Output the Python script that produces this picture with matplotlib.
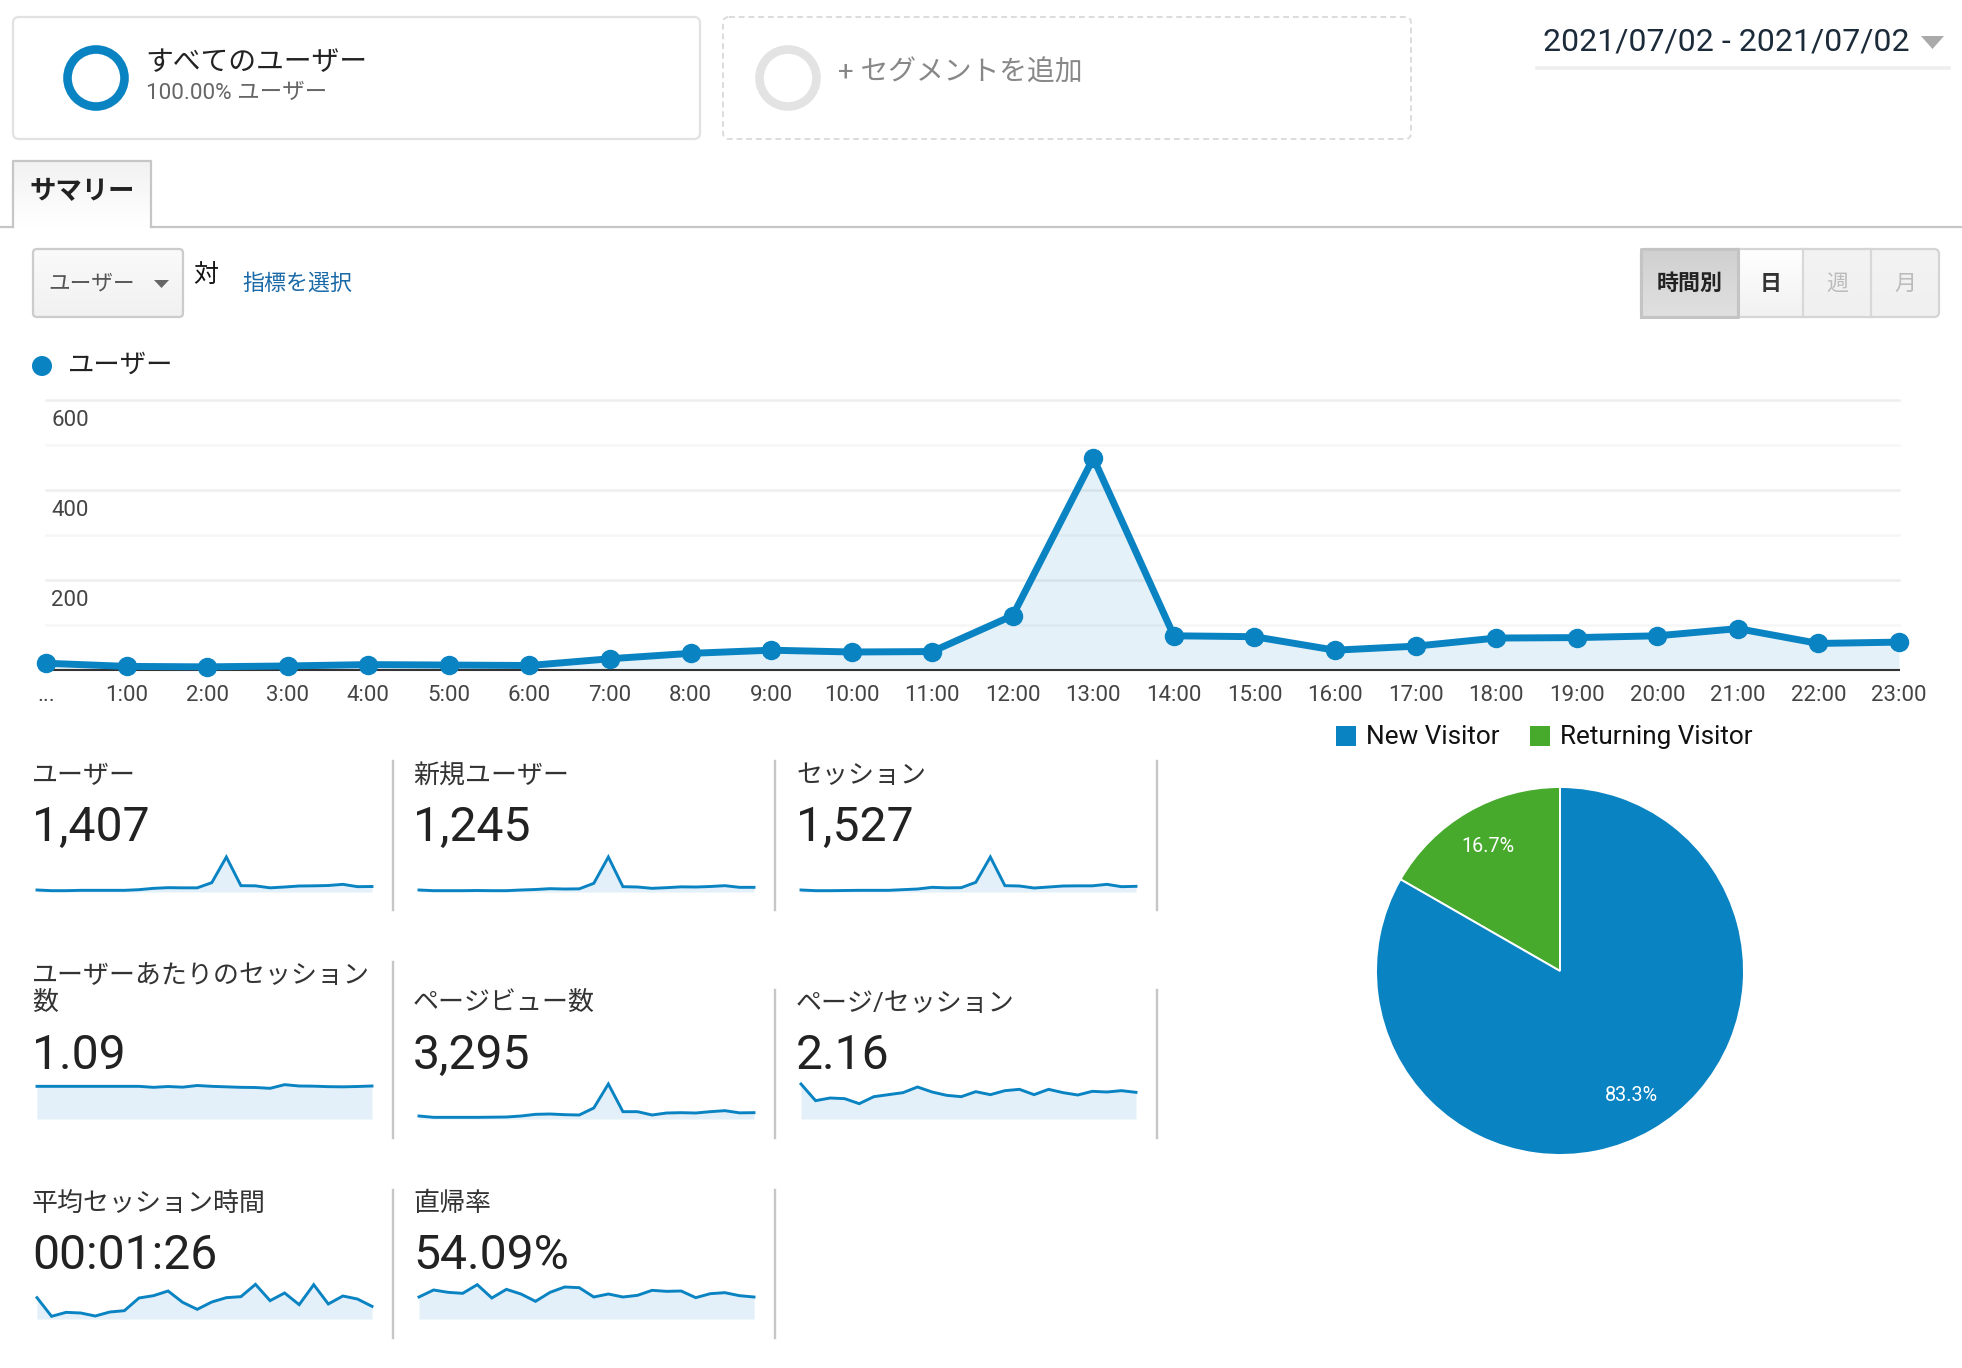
import numpy as np
import matplotlib
matplotlib.use('Agg')
import matplotlib.pyplot as plt
from matplotlib.patches import FancyBboxPatch, Circle, Rectangle, Polygon

plt.rcParams['font.family'] = ['Roboto', 'Noto Sans CJK JP', 'DejaVu Sans']

W, H = 1962, 1368
BLUE = '#0a83c2'
GREEN = '#47aa2d'
FILL = '#e3f0f9'
LINE = '#c6c6c6'

hours = ['...'] + [f'{h}:00' for h in range(1, 24)]
users = [15, 8, 7, 9, 12, 11, 10, 25, 37, 44, 40, 41, 121, 471, 76, 74, 44, 53, 71, 72, 76, 92, 59, 62]
y_labels = [200, 400, 600]
y_grid = [100, 200, 300, 400, 500, 600]

visitor_labels = ['New Visitor', 'Returning Visitor']
visitor_share = [83.3, 16.7]

# sparklines, heights (0-105 = full height of the spark)
spark_users = [6, 4, 4, 5, 5, 5, 5, 7, 11, 13, 12.5, 12.5, 28, 105, 19, 18.5, 12.5, 15, 18, 18.5, 19.5, 23, 16, 16.5]
spark_new = [6, 4, 4, 4, 4.5, 4, 4, 6, 7.5, 10, 9, 9.5, 26, 105, 16, 15, 11, 13, 15.5, 15, 16.5, 19, 14, 14]
spark_sessions = [6, 4, 4, 4.5, 5, 5, 5, 7, 9, 14, 12.5, 13, 29, 105, 19, 18, 12, 15, 18, 18.5, 18.5, 23, 16, 17]
spark_per_user = [98, 98, 98, 98, 98, 98, 98, 98, 95, 97.5, 95.5, 100.5, 98, 96.5, 95, 94.5, 92, 103, 99, 98.5, 97, 96.5, 97.5, 99]
spark_pv = [9, 5, 5, 5, 5, 5.5, 6, 9, 14, 15, 13, 12, 33, 105, 22, 22, 12, 18, 19, 18, 22, 25, 18.5, 19]
spark_pages = [105, 55, 63, 61, 46, 67, 73, 79, 96, 81, 71, 67, 82, 73, 85, 89, 73, 89, 79, 72, 83, 81, 85, 80]
spark_duration = [64, 8, 20, 18, 9, 21, 25, 63, 70, 84, 50, 29, 51, 64, 67, 104, 55, 78, 43, 103, 45, 69, 60, 38]
spark_bounce = [66, 87, 80, 77, 103, 63, 89, 75, 53, 80, 96, 94, 66, 75, 66, 71, 86, 83, 84, 64, 76, 79, 70, 66]

fig = plt.figure(figsize=(W / 100, H / 100), dpi=100)


def px_axes(x0, y0, x1, y1):
    return fig.add_axes([x0 / W, 1 - y1 / H, (x1 - x0) / W, (y1 - y0) / H])


# page-level axes in pixel coordinates for the UI chrome
ui = fig.add_axes([0, 0, 1, 1])
ui.set_xlim(0, W)
ui.set_ylim(H, 0)
ui.axis('off')


def box(x0, y0, x1, y1, fc='white', ec='#e2e2e2', lw=1.6, ls='-', r=6):
    ui.add_patch(FancyBboxPatch((x0, y0), x1 - x0, y1 - y0, boxstyle=f'round,pad=0,rounding_size={r}',
                                fc=fc, ec=ec, lw=lw, ls=ls))


def grad(x0, y0, x1, y1, top, bottom):
    c0 = np.array(matplotlib.colors.to_rgb(top))
    c1 = np.array(matplotlib.colors.to_rgb(bottom))
    t = np.linspace(0, 1, 32)[:, None, None]
    ui.imshow(c0 + (c1 - c0) * t, extent=(x0, x1, y1, y0), aspect='auto', zorder=1)
    ui.set_xlim(0, W)
    ui.set_ylim(H, 0)


def label(x, y, s, size, color='#333333', ha='left', weight='normal', zorder=5):
    # va=center sits a little high for these fonts
    ui.text(x, y + 3, s, fontsize=size, color=color, ha=ha, va='center', fontweight=weight, zorder=zorder)


# segment boxes
box(13, 17, 700, 139)
ui.add_patch(Circle((96, 78), 28.5, fc='none', ec=BLUE, lw=6.2))
label(145, 60, 'すべてのユーザー', 20, '#222222')
label(146, 90, '100.00% ユーザー', 16.2, '#666666')
box(723, 17, 1411, 139, ec='#dcdcdc', lw=1.4, ls=(0, (3, 2)))
ui.add_patch(Circle((788, 78), 28.5, fc='none', ec='#e3e3e3', lw=6.2))
label(838, 70, '+ セグメントを追加', 20, '#888888')

# date range
label(1543, 39, '2021/07/02 - 2021/07/02', 23, '#1c2b3a')
ui.add_patch(Polygon([(1921, 36), (1944, 36), (1932.5, 49)], fc='#aaaaaa', ec='none'))
ui.plot([1537, 1949], [68, 68], color='#eeeeee', lw=2.6)

# tab
ui.plot([0, 13], [227, 227], color=LINE, lw=1.6)
ui.plot([151, W], [227, 227], color=LINE, lw=1.6)
grad(13, 161, 151, 227, '#f2f2f2', '#ffffff')
ui.plot([13, 13, 151, 151], [227, 161, 161, 227], color=LINE, lw=1.6, zorder=2)
label(29, 189, 'サマリー', 19, '#222222', weight='bold')

# metric picker
grad(33, 249, 183, 317, '#fafafa', '#f1f1f1')
ui.add_patch(FancyBboxPatch((33, 249), 150, 68, boxstyle='round,pad=0,rounding_size=4', fc='none', ec='#cccccc', lw=1.6, zorder=2))
label(48, 281, 'ユーザー', 15.6, '#555555')
ui.add_patch(Polygon([(154, 280), (169, 280), (161.5, 288)], fc='#666666', ec='none', zorder=3))
label(193, 272, '対', 18, '#111111')
label(242, 281, '指標を選択', 15.8, '#1a6aa8')

# period buttons
btn_edges = [1641, 1738, 1803, 1871, 1939]
btn_names = ['時間別', '日', '週', '月']
btn_top = ['#d0d0d0', '#ffffff', '#f3f3f3', '#f3f3f3']
btn_bottom = ['#e0e0e0', '#f1f1f1', '#f0f0f0', '#f0f0f0']
btn_text = ['#222222', '#333333', '#bbbbbb', '#bbbbbb']
for i in range(4):
    grad(btn_edges[i], 249, btn_edges[i + 1], 317, btn_top[i], btn_bottom[i])
    cx = (btn_edges[i] + btn_edges[i + 1]) / 2
    label(cx, 281, btn_names[i], 15.8, btn_text[i], ha='center', weight='bold' if i < 2 else 'normal')
    if i:
        ui.plot([btn_edges[i]] * 2, [249, 317], color='#d8d8d8', lw=1.6, zorder=2)
ui.add_patch(FancyBboxPatch((1641, 249), 298, 68, boxstyle='round,pad=0,rounding_size=5', fc='none', ec='#d5d5d5', lw=1.6, zorder=2))
ui.plot([1641, 1641, 1738, 1738, 1641], [317, 249, 249, 317, 317], color='#c4c4c4', lw=2.2, zorder=2)

# legend of the main chart
ui.add_patch(Circle((42, 366), 10, fc=BLUE, ec='none'))
label(68, 363, 'ユーザー', 19, '#222222')

# main chart
ax = px_axes(46, 400, 1899, 670)
x = np.arange(24)
ax.set_xlim(0, 23)
ax.set_ylim(0, 600)
ax.patch.set_alpha(0)
for v in y_grid:
    major = v % 200 == 0
    ax.axhline(v, color='#eeeeee' if major else '#f6f6f6', lw=1.8, zorder=1, clip_on=False)
ax.fill_between(x, users, 0, color=BLUE, alpha=0.11, lw=0, zorder=2)
ax.plot(x, users, color=BLUE, lw=5, marker='o', ms=13, clip_on=False, zorder=4, solid_joinstyle='miter')
for side in ['top', 'left', 'right']:
    ax.spines[side].set_visible(False)
ax.spines['bottom'].set_color('#333333')
ax.spines['bottom'].set_linewidth(1.5)
ax.spines['bottom'].set_zorder(3)
ax.set_xticks(x)
ax.set_xticklabels(hours, fontsize=16, color='#444444')
ax.set_yticks([])
ax.tick_params(axis='x', length=0, pad=10.5)
for v in y_labels:
    ax.annotate(str(v), xy=(0, v), xytext=(3.8, -14.5), textcoords='offset points',
                fontsize=16, color='#444444', va='center', ha='left')

# KPI blocks
kpis = [
    (32, 37, 774, 825, 892, ['ユーザー'], '1,407', spark_users),
    (413, 419, 774, 825, 892, ['新規ユーザー'], '1,245', spark_new),
    (796, 801, 774, 825, 892, ['セッション'], '1,527', spark_sessions),
    (32, 37, 1002, 1053, 1119, ['ユーザーあたりのセッション', '数'], '1.09', spark_per_user),
    (413, 419, 1002, 1053, 1119, ['ページビュー数'], '3,295', spark_pv),
    (796, 801, 1002, 1053, 1119, ['ページ/セッション'], '2.16', spark_pages),
    (32, 37, 1202, 1253, 1319, ['平均セッション時間'], '00:01:26', spark_duration),
    (413, 419, 1202, 1253, 1319, ['直帰率'], '54.09%', spark_bounce),
]
for lx, sx, ly, ny, base, names, num, spark in kpis:
    for i, name in enumerate(names):
        yy = ly if len(names) == 1 else ly - 28 + 28 * i
        label(lx, yy - 1, name, 18.7, '#333333')
    label(lx, ny, num, 34.6, '#222222')
    sp = px_axes(sx, base - 35, sx + 335, base)
    sp.set_xlim(0, 23)
    sp.set_ylim(0, 105)
    sp.axis('off')
    sp.patch.set_alpha(0)
    xs = np.arange(len(spark))
    sp.fill_between(xs, spark, 0, color=FILL, lw=0)
    sp.plot(xs, spark, color=BLUE, lw=2.1, clip_on=False, solid_joinstyle='miter')

dividers = [(393, 761, 910), (774.5, 761, 910), (1157, 761, 910),
            (393, 962, 1138), (774.5, 990, 1138), (1157, 990, 1138),
            (393, 1190, 1338), (774.5, 1190, 1338)]
for dx, y0, y1 in dividers:
    ui.plot([dx, dx], [y0, y1], color=LINE, lw=1.7)

# pie legend
ui.add_patch(Rectangle((1336, 726), 20, 20, fc=BLUE, ec='none'))
label(1366, 734, visitor_labels[0], 18.8, '#111111')
ui.add_patch(Rectangle((1530, 726), 20, 20, fc=GREEN, ec='none'))
label(1560, 734, visitor_labels[1], 18.8, '#111111')

# pie
pie_ax = px_axes(1560 - 184, 971 - 184, 1560 + 184, 971 + 184)
wedges, _, pct = pie_ax.pie(visitor_share[::-1], colors=[GREEN, BLUE], startangle=90,
                            autopct='%.1f%%', pctdistance=0.78,
                            wedgeprops={'edgecolor': 'white', 'linewidth': 1.4},
                            textprops={'color': 'white', 'fontsize': 14.2})
pie_ax.set_xlim(-1, 1)
pie_ax.set_ylim(-1, 1)
for w in wedges:
    w.set_clip_on(False)

fig.savefig('out.png', dpi=100, facecolor='white')
